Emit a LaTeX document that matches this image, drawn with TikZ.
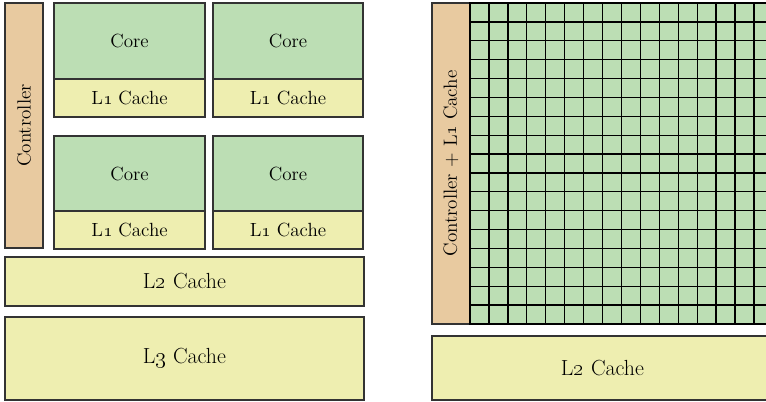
\documentclass[tikz,border=0pt]{standalone}
\usetikzlibrary{calc}
\definecolor{coregreen}{RGB}{188,222,180}
\definecolor{cacheyellow}{RGB}{238,238,176}
\definecolor{ctrlorange}{RGB}{232,202,160}
\tikzset{
  blk/.style={draw=black!80, line width=0.9pt, inner sep=0pt, outer sep=0pt,
    anchor=north west, font=\fontsize{14.3}{17}\selectfont},
  corebox/.style={blk, fill=coregreen},
  cachebox/.style={blk, fill=cacheyellow},
  ctrlbox/.style={blk, fill=ctrlorange},
  bigtext/.style={font=\fontsize{16.4}{19}\selectfont},
  sidetext/.style={rotate=90, font=\fontsize{14.3}{17}\selectfont},
  gridline/.style={draw=black, line width=1pt},
}
% block: name, x1, y1, x2, y2, style, text  (coordinates in pixels)
\newcommand\blkat[7]{%
  \node[#6, minimum width={(#4-#2)*0.75pt}, minimum height={(#5-#3)*0.75pt}] (#1) at (#2,#3) {#7};}
\newcommand\Lone{L\oldstylenums{1}}
\begin{document}
\begin{tikzpicture}[x=0.75pt, y=-0.75pt]
  \useasboundingbox (0,0) rectangle (766,401);
  \clip (0,0) rectangle (766,401);

  % ---- multi-core CPU ----
  \blkat{ctrl}{5}{3}{43}{248}{ctrlbox}{}
  \node[sidetext] (ctrltxt) at (ctrl.center) {Controller};

  \blkat{coreA}{54}{3}{205}{79}{corebox}{Core}
  \blkat{lA}{54}{79}{205}{117}{cachebox}{\Lone{} Cache}
  \blkat{coreB}{213}{3}{363}{79}{corebox}{Core}
  \blkat{lB}{213}{79}{363}{117}{cachebox}{\Lone{} Cache}
  \blkat{coreC}{54}{136}{205}{211}{corebox}{Core}
  \blkat{lC}{54}{211}{205}{249}{cachebox}{\Lone{} Cache}
  \blkat{coreD}{213}{136}{363}{211}{corebox}{Core}
  \blkat{lD}{213}{211}{363}{249}{cachebox}{\Lone{} Cache}

  \blkat{ltwo}{5}{257}{364}{306}{cachebox,bigtext}{L\oldstylenums{2} Cache}
  \blkat{lthree}{5}{317}{364}{400}{cachebox,bigtext}{L\oldstylenums{3} Cache}

  % ---- many-core GPU ----
  \blkat{gctrl}{432}{3}{470}{324}{ctrlbox}{}
  \node[sidetext] (gctrltxt) at (gctrl.center) {Controller + \Lone{} Cache};

  \blkat{grid}{470}{3}{773}{324}{corebox}{}
  \foreach \i in {1,...,16}
    \draw[gridline] ($(grid.north west)+(\i*18.93,0)$) -- ($(grid.south west)+(\i*18.93,0)$);
  \foreach \j in {1,...,16}
    \draw[gridline] ($(grid.north west)+(0,\j*18.88)$) -- ($(grid.north east)+(0,\j*18.88)$);
  \draw[gridline] (grid.north west) rectangle (grid.south east);

  \blkat{gltwo}{432}{336}{773}{400}{cachebox,bigtext}{L\oldstylenums{2} Cache}
\end{tikzpicture}
\end{document}
